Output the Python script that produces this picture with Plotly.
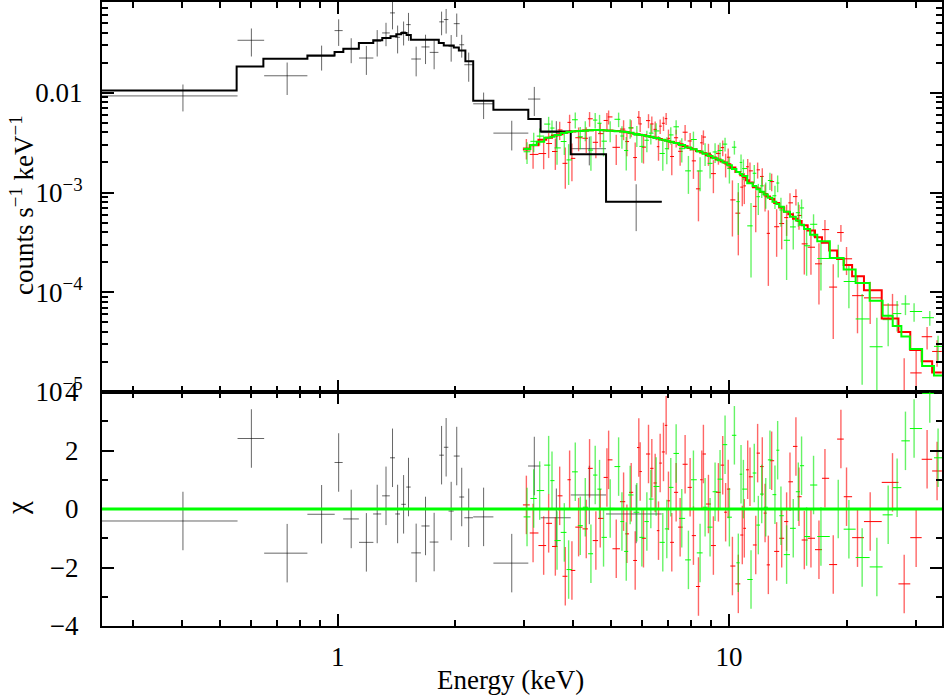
import numpy as np
import plotly.graph_objects as go

# ---------------- data ----------------
# low-energy instrument (black)
black_E = [0.4025, 0.602, 0.743, 0.910, 1.006, 1.083, 1.184, 1.262, 1.329, 1.381, 1.423, 1.474, 1.517, 1.587,
           1.677, 1.764, 1.843, 1.893, 1.950, 2.015, 2.075, 2.162, 2.36, 2.785, 3.18, 3.62, 4.395, 5.79]
black_dE = [0.1525, 0.047, 0.094, 0.073, 0.024, 0.05, 0.05, 0.03, 0.03, 0.02, 0.02, 0.02, 0.02, 0.045,
            0.04, 0.045, 0.025, 0.025, 0.03, 0.035, 0.03, 0.055, 0.14, 0.285, 0.115, 0.32, 0.455, 0.94]
black_rate = [0.0093, 0.0336, 0.0148, 0.0232, 0.042, 0.0275, 0.0223, 0.0328, 0.0398, 0.0632, 0.036, 0.0408,
              0.0482, 0.0218, 0.0288, 0.0254, 0.0514, 0.0542, 0.0292, 0.0493, 0.0303, 0.0191, 0.00775,
              0.00394, 0.00865, 0.00399, 0.00275, 0.00081]
black_err = [0.0028, 0.0105, 0.0053, 0.0065, 0.0125, 0.0077, 0.0072, 0.0097, 0.0105, 0.020, 0.0112, 0.011,
             0.015, 0.0072, 0.0094, 0.0082, 0.0137, 0.015, 0.0087, 0.013, 0.0078, 0.0062, 0.0023, 0.0013,
             0.0028, 0.0012, 0.00088, 0.0004]
black_chi = [-0.41, 2.41, -1.51, -0.18, 1.59, -0.34, -1.14, -0.17, 0.45, 1.75, -0.17, 0.16, 0.75, -1.5,
             -0.58, -1.13, 1.84, 2.11, -0.07, 1.81, 0.41, -0.3, -0.27, -1.85, 1.47, -0.3, 0.48, -0.17]
black_model_edges = [0.25, 0.552, 0.646, 0.837, 0.982, 1.034, 1.133, 1.233, 1.300, 1.365, 1.412, 1.454, 1.500,
                     1.538, 1.813, 1.867, 1.98, 2.04, 2.12, 2.22, 2.50, 3.07, 3.30, 3.94, 4.85, 6.73]
black_model = [0.01055, 0.01837, 0.02198, 0.0237, 0.0257, 0.0277, 0.0316, 0.0336, 0.0355, 0.0368, 0.0386,
               0.0398, 0.038, 0.0341, 0.0316, 0.0297, 0.0285, 0.0266, 0.0207, 0.0083, 0.00675, 0.00545,
               0.00408, 0.00242, 0.00081]

# hard X-ray module A (red)
red_E = [3.035, 3.157, 3.360, 3.460, 3.599, 3.692, 3.816, 3.914, 3.968, 4.127, 4.317, 4.402, 4.568, 4.687,
         4.875, 4.924, 5.150, 5.377, 5.483, 5.623, 5.757, 5.881, 5.928, 6.045, 6.226, 6.349, 6.475, 6.603,
         6.668, 6.800, 6.907, 7.001, 7.140, 7.325, 7.499, 7.722, 7.953, 8.110, 8.353, 8.518, 8.600, 8.858,
         9.120, 9.393, 9.634, 9.80, 9.95, 10.20, 10.56, 10.81, 10.94, 11.16, 11.31, 11.70, 11.83, 12.16,
         12.36, 12.60, 12.85, 13.23, 13.63, 14.03, 14.31, 14.82, 15.09, 15.57, 16.19, 16.97, 17.58, 18.46,
         19.31, 19.96, 21.29, 22.94, 26.16, 28.02, 30.06, 32.06, 34.00]
red_model_1e3 = [2.70, 2.97, 3.39, 3.53, 3.72, 3.84, 3.97, 4.07, 4.09, 4.13, 4.18, 4.20, 4.24, 4.23, 4.19,
                 4.18, 4.13, 4.08, 4.03, 3.95, 3.88, 3.83, 3.80, 3.75, 3.67, 3.61, 3.54, 3.47, 3.44, 3.37,
                 3.32, 3.27, 3.21, 3.13, 3.04, 2.91, 2.79, 2.72, 2.61, 2.52, 2.48, 2.36, 2.25, 2.14, 2.05,
                 1.99, 1.92, 1.78, 1.61, 1.49, 1.43, 1.33, 1.26, 1.13, 1.10, 1.01, 0.964, 0.912, 0.861,
                 0.783, 0.708, 0.643, 0.607, 0.547, 0.519, 0.470, 0.416, 0.356, 0.313, 0.262, 0.216, 0.188,
                 0.145, 0.105, 0.0546, 0.0399, 0.0264, 0.0203, 0.0157]
red_chi = [0.14, -0.82, -1.25, -0.49, -1.28, 0.45, -2.3, 1.0, -2.1, -0.62,
           -0.68, 1.39, -1.08, -0.32, 1.08, 1.68, -1.36, 0.25, -0.85, 0.57,
           -1.76, 2.1, 1.28, -1.0, 1.88, 1.39, 0.89, -0.74, 1.57, 1.95,
           2.86, 0.28, -1.14, 0.57, -0.62, 1.53, 0.74, -0.91, -2.65, 1.0,
           1.88, 0.17, -1.25, 0.57, 1.5, -0.11, 0.68, -1.95, -2.56, -0.89,
           -0.66, 1.34, 1.1, -1.23, 1.91, 1.45, -0.14, -1.91, 1.65, -1.45,
           -1.0, -0.43, 0.93, 2.14, 0.42, -1.06, -1.0, -1.39, 1.05, -1.9,
           2.39, 0.42, -0.98, -0.43, 0.91, -2.56, -0.98, 1.7, 1.3]
red_relerr = [0.24, 0.23, 0.22, 0.25, 0.24, 0.23, 0.22, 0.24, 0.22, 0.23,
              0.24, 0.22, 0.23, 0.25, 0.24, 0.22, 0.23, 0.24, 0.23, 0.22,
              0.24, 0.23, 0.22, 0.24, 0.23, 0.25, 0.24, 0.23, 0.22, 0.24,
              0.23, 0.24, 0.25, 0.23, 0.24, 0.25, 0.24, 0.26, 0.22, 0.25,
              0.24, 0.26, 0.25, 0.26, 0.25, 0.26, 0.26, 0.27, 0.24, 0.27,
              0.28, 0.27, 0.28, 0.29, 0.28, 0.30, 0.29, 0.30, 0.30, 0.29,
              0.31, 0.30, 0.32, 0.31, 0.32, 0.33, 0.32, 0.33, 0.34, 0.30,
              0.35, 0.36, 0.37, 0.38, 0.40, 0.29, 0.42, 0.45, 0.48]

# hard X-ray module B (green)
green_E = [3.047, 3.169, 3.282, 3.460, 3.529, 3.635, 3.794, 3.892, 4.047, 4.168, 4.292, 4.437, 4.550, 4.668,
           4.779, 4.970, 5.222, 5.325, 5.462, 5.589, 5.813, 5.987, 6.166, 6.312, 6.512, 6.772, 6.934, 7.098,
           7.325, 7.572, 7.874, 8.110, 8.433, 8.686, 8.944, 9.211, 9.485, 9.768, 10.02, 10.32, 10.56, 10.73,
           10.88, 11.38, 11.60, 11.88, 12.12, 12.41, 12.72, 13.10, 13.31, 13.57, 14.03, 14.59, 15.03, 15.32,
           15.78, 16.44, 17.17, 19.01, 20.24, 21.88, 23.86, 25.50, 26.88, 28.23, 29.70, 32.57, 34.20]
green_model_1e3 = [2.73, 3.00, 3.23, 3.53, 3.62, 3.78, 3.94, 4.05, 4.11, 4.14,
                   4.17, 4.21, 4.24, 4.23, 4.21, 4.17, 4.11, 4.09, 4.04, 3.97,
                   3.85, 3.78, 3.69, 3.63, 3.52, 3.39, 3.31, 3.23, 3.13, 2.99,
                   2.83, 2.72, 2.57, 2.44, 2.32, 2.21, 2.10, 2.00, 1.88, 1.72,
                   1.61, 1.53, 1.46, 1.24, 1.16, 1.08, 1.02, 0.955, 0.887, 0.809,
                   0.767, 0.718, 0.643, 0.573, 0.525, 0.475, 0.430, 0.378, 0.325, 0.220,
                   0.169, 0.124, 0.082, 0.058, 0.046, 0.036, 0.027, 0.0182, 0.0146]
green_chi = [-0.27, 0.36, 0.63, 1.5, 0.97, -1.08, -0.8, -2.07, 1.27, -0.57,
             0.06, -1.53, 1.16, 0.68, -0.97, 0.02, 1.45, -0.43, -1.45, 0.48,
             -0.11, -0.97, -0.43, 0.34, 0.77, -1.14, -0.68, 0.74, 1.9, -0.32,
             -1.74, 1.0, -1.5, 0.06, -0.62, 0.59, 1.02, 2.2, -0.28, 2.52,
             -1.84, 1.19, 0.68, -2.41, 1.23, -0.55, 0.51, 0.06, 1.68, 0.49,
             2.01, -0.23, -1.56, -0.66, 0.59, 1.48, -0.94, 0.82, -0.94, 0.0,
             -0.69, -1.66, -1.98, -0.2, 0.73, 2.33, 2.75, 3.95, 1.75]
green_relerr = [0.23, 0.24, 0.22, 0.25, 0.23, 0.24, 0.22, 0.23, 0.24, 0.22,
                0.23, 0.24, 0.22, 0.25, 0.23, 0.24, 0.22, 0.23, 0.24, 0.25,
                0.23, 0.24, 0.22, 0.25, 0.23, 0.24, 0.25, 0.23, 0.24, 0.25,
                0.24, 0.25, 0.24, 0.26, 0.25, 0.26, 0.25, 0.24, 0.27, 0.26,
                0.27, 0.26, 0.28, 0.26, 0.28, 0.29, 0.28, 0.30, 0.29, 0.30,
                0.31, 0.30, 0.31, 0.32, 0.33, 0.32, 0.34, 0.33, 0.35, 0.36,
                0.35, 0.34, 0.33, 0.42, 0.45, 0.48, 0.50, 0.52, 0.55]

x_tick_vals = [1, 10]
x_tick_text = ["1", "10"]
y_tick_vals = [1e-5, 1e-4, 1e-3, 1e-2]
y_tick_text = ["10<sup>\u22125</sup>", "10<sup>\u22124</sup>", "10<sup>\u22123</sup>", "0.01"]
chi_tick_vals = [-4, -2, 0, 2, 4]
chi_tick_text = ["\u22124", "\u22122", "0", "2", "4"]

# ---------------- helpers ----------------
FONT = "Liberation Serif"
FS = 27
RED = "#ff0000"
GREEN = "#00ff00"


def bin_edges(E):
    E = np.asarray(E, float)
    mid = 0.5 * (E[1:] + E[:-1])
    lo = np.concatenate([[E[0] - (mid[0] - E[0])], mid])
    hi = np.concatenate([mid, [E[-1] + (E[-1] - mid[-1])]])
    return lo, hi


def spectrum(E, model_1e3, chi, relerr):
    E = np.asarray(E, float)
    M = np.asarray(model_1e3, float) * 1e-3
    chi = np.asarray(chi, float)
    sig = M * np.asarray(relerr, float)
    data = M + chi * sig
    lo, hi = bin_edges(E)
    return E, M, chi, sig, data, lo, hi


fig = go.Figure()

# black data
bE = np.asarray(black_E)
bdE = np.asarray(black_dE)
brate = np.asarray(black_rate)
berr = np.asarray(black_err)
fig.add_trace(go.Scatter(
    x=bE, y=brate, mode="markers", marker=dict(size=2, color="rgba(0,0,0,0)"),
    error_x=dict(type="data", array=bdE, color="rgba(0,0,0,0.6)", thickness=1, width=0),
    error_y=dict(type="data", array=berr, arrayminus=np.minimum(berr, brate * 0.999),
                 color="rgba(0,0,0,0.6)", thickness=1, width=0),
    xaxis="x", yaxis="y", showlegend=False, hoverinfo="skip"))
fig.add_trace(go.Scatter(
    x=bE, y=black_chi, mode="markers", marker=dict(size=2, color="rgba(0,0,0,0)"),
    error_x=dict(type="data", array=bdE, color="rgba(0,0,0,0.6)", thickness=1, width=0),
    error_y=dict(type="data", array=[1.0] * len(bE), color="rgba(0,0,0,0.6)", thickness=1, width=0),
    xaxis="x2", yaxis="y2", showlegend=False, hoverinfo="skip"))

series = [
    (spectrum(red_E, red_model_1e3, red_chi, red_relerr), RED, "rgba(255,0,0,0.6)"),
    (spectrum(green_E, green_model_1e3, green_chi, green_relerr), GREEN, "rgba(0,235,0,0.6)"),
]

for (E, M, chi, sig, data, lo, hi), col, ecol in series:
    ex = dict(type="data", array=hi - E, arrayminus=E - lo, color=col, thickness=1, width=0)
    fig.add_trace(go.Scatter(
        x=E, y=data, mode="markers", marker=dict(size=2, color="rgba(0,0,0,0)"),
        error_x=ex,
        error_y=dict(type="data", array=sig, arrayminus=np.minimum(sig, data * 0.999),
                     color=ecol, thickness=1.4, width=0),
        xaxis="x", yaxis="y", showlegend=False, hoverinfo="skip"))
    fig.add_trace(go.Scatter(
        x=E, y=chi, mode="markers", marker=dict(size=2, color="rgba(0,0,0,0)"),
        error_x=ex,
        error_y=dict(type="data", array=np.ones_like(chi), color=ecol, thickness=1.4, width=0),
        xaxis="x2", yaxis="y2", showlegend=False, hoverinfo="skip"))

# model step lines
fig.add_trace(go.Scatter(
    x=black_model_edges, y=list(black_model) + [black_model[-1]], mode="lines",
    line=dict(color="black", width=2, shape="hv"), xaxis="x", yaxis="y",
    showlegend=False, hoverinfo="skip"))
for (E, M, chi, sig, data, lo, hi), col, ecol in series:
    edges = list(lo) + [hi[-1]]
    fig.add_trace(go.Scatter(
        x=edges, y=list(M) + [M[-1]], mode="lines",
        line=dict(color=col, width=2, shape="hv"), xaxis="x", yaxis="y",
        showlegend=False, hoverinfo="skip"))

# ---------------- axes ----------------
x_minor = [v * 0.1 for v in range(3, 10)] + list(range(2, 10)) + [20, 30]
y_minor = [k * 10.0 ** e for e in range(-5, -1) for k in range(2, 10) if k * 10.0 ** e < 0.08]

common_x = dict(type="log", range=[np.log10(0.25), np.log10(35)], showgrid=False, zeroline=False,
                showline=True, linecolor="black", linewidth=2, mirror="allticks", automargin=False,
                ticks="inside", ticklen=12, tickwidth=2, tickcolor="black",
                tickmode="array", tickvals=x_tick_vals, ticktext=x_tick_text,
                minor=dict(tickmode="array", tickvals=x_minor, ticks="inside", ticklen=6,
                           tickwidth=2, tickcolor="black", showgrid=False),
                tickfont=dict(family=FONT, size=FS, color="black"))

split = 234.0 / 624.0
fig.update_layout(
    width=945, height=696,
    margin=dict(l=102, r=3, t=2, b=70, pad=0, autoexpand=False),
    paper_bgcolor="white", plot_bgcolor="white",
    font=dict(family=FONT, size=FS, color="black"),
    xaxis=dict(common_x, domain=[0, 1], anchor="y", showticklabels=False),
    xaxis2=dict(common_x, domain=[0, 1], anchor="y2", showticklabels=True, ticklabelstandoff=6),
    yaxis=dict(type="log", domain=[split, 1], anchor="x", range=[-5, -1.09], automargin=False,
               showgrid=False, zeroline=False, showline=True, linecolor="black", linewidth=2,
               mirror="allticks", ticks="inside", ticklen=12, tickwidth=2, tickcolor="black",
               tickmode="array", tickvals=y_tick_vals, ticktext=y_tick_text,
               minor=dict(tickmode="array", tickvals=y_minor, ticks="inside", ticklen=6,
                          tickwidth=2, tickcolor="black", showgrid=False),
               tickfont=dict(family=FONT, size=FS, color="black"), ticklabelstandoff=12),
    yaxis2=dict(domain=[0, split], anchor="x2", range=[-4, 4], automargin=False,
                showgrid=False, zeroline=False, showline=True, linecolor="black", linewidth=2,
                mirror="allticks", ticks="inside", ticklen=12, tickwidth=2, tickcolor="black",
                tickmode="array", tickvals=chi_tick_vals, ticktext=chi_tick_text,
                minor=dict(tickmode="array", tickvals=[-3, -1, 1, 3], ticks="inside", ticklen=6,
                           tickwidth=2, tickcolor="black", showgrid=False),
                tickfont=dict(family=FONT, size=FS, color="black"), ticklabelstandoff=16),
    shapes=[dict(type="line", xref="x2 domain", yref="y2", x0=0, x1=1, y0=0, y1=0,
                 line=dict(color=GREEN, width=3), layer="above")],
    annotations=[
        dict(text="counts s<sup>\u22121</sup> keV<sup>\u22121</sup>", xref="paper", yref="paper",
             x=(22 - 102) / 840.0, y=(624 - (205 - 2)) / 624.0, textangle=-90, showarrow=False,
             xanchor="center", yanchor="middle", font=dict(family=FONT, size=FS)),
        dict(text="\u03c7", xref="paper", yref="paper",
             x=(17 - 102) / 840.0, y=(624 - (508 - 2)) / 624.0, textangle=-90, showarrow=False,
             xanchor="center", yanchor="middle", font=dict(family=FONT, size=FS + 2)),
        dict(text="Energy (keV)", xref="paper", yref="paper",
             x=(510 - 102) / 840.0, y=(624 - (680 - 2)) / 624.0, showarrow=False,
             xanchor="center", yanchor="middle", font=dict(family=FONT, size=FS)),
    ],
)

fig.write_html("out.html", config={"displayModeBar": False},
               post_script="document.body.style.margin='0px';")
